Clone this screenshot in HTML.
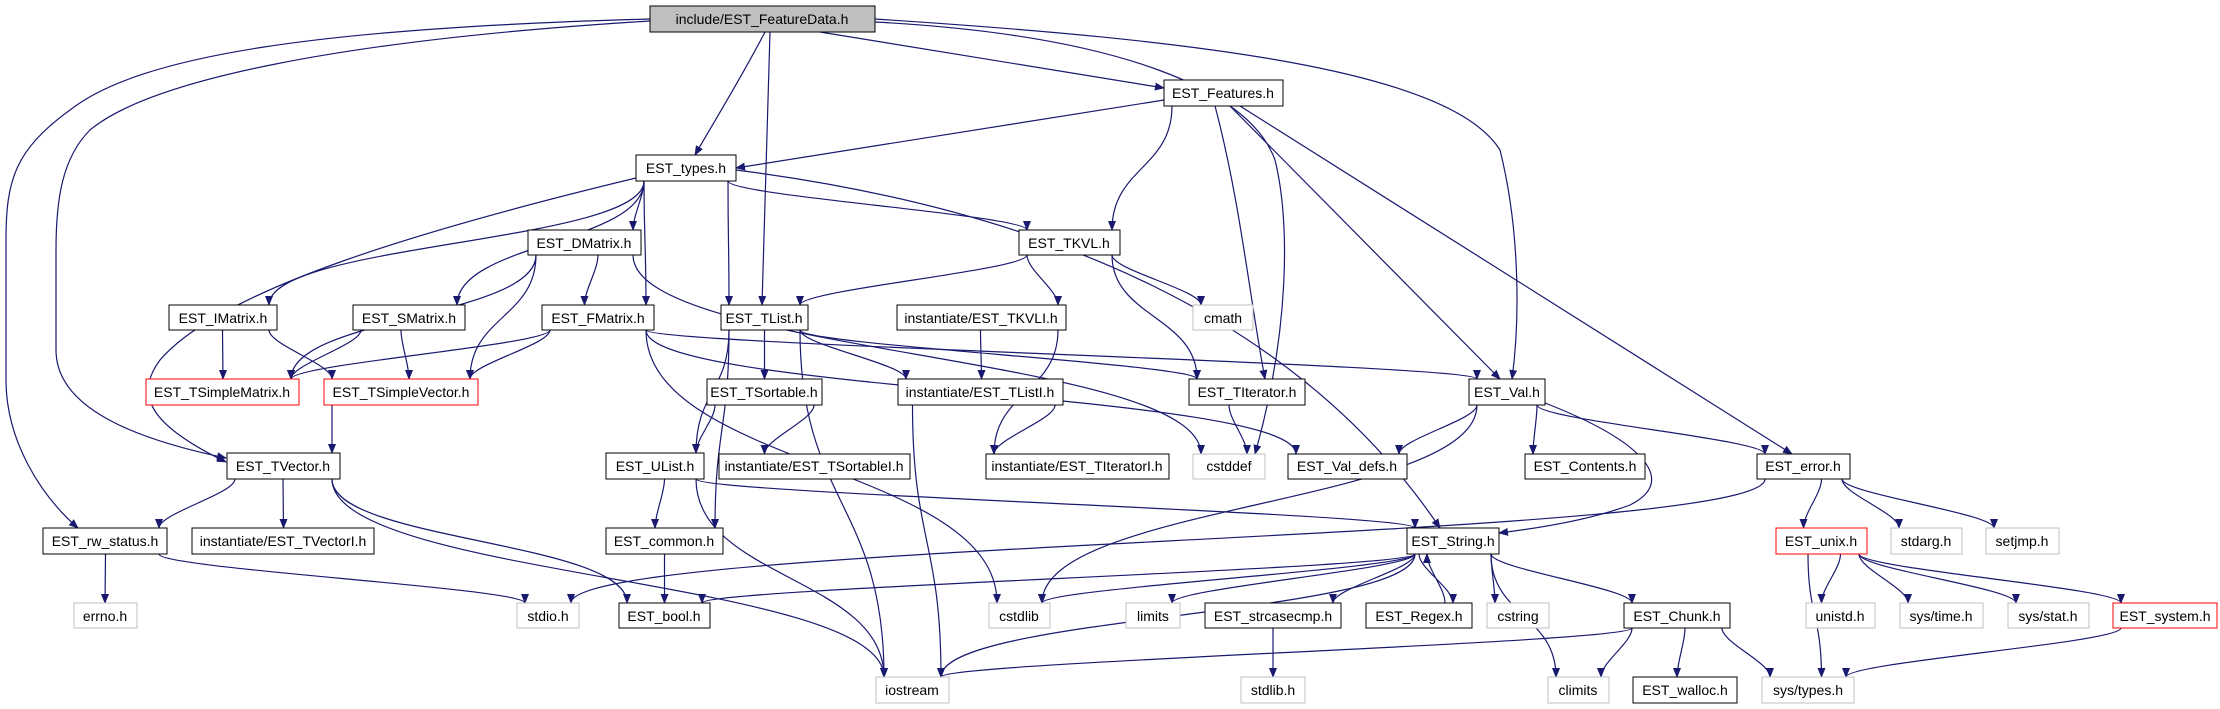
<!DOCTYPE html>
<html><head><meta charset="utf-8"><style>
html,body{margin:0;padding:0;background:#fff;}
svg{display:block;}
text{font-family:"Liberation Sans",sans-serif;font-size:14px;fill:#000;}
</style></head><body>
<svg id="g" width="2220" height="709" viewBox="0 0 2220 709" xmlns="http://www.w3.org/2000/svg">
<defs><marker id="a" markerWidth="10" markerHeight="8" refX="9" refY="4" orient="auto" markerUnits="userSpaceOnUse"><path d="M0,0 L10,4 L0,8 z" fill="#191970"/></marker></defs>
<g id="edges"></g>
<g id="nodes">
<rect x="650" y="6" width="225" height="26" fill="#bfbfbf" stroke="#000"/><text x="762" y="24" text-anchor="middle">include/EST_FeatureData.h</text>
<rect x="1164" y="80" width="119" height="26" fill="#fff" stroke="#000"/><text x="1223" y="98" text-anchor="middle">EST_Features.h</text>
<rect x="636" y="155" width="100" height="26" fill="#fff" stroke="#000"/><text x="686" y="173" text-anchor="middle">EST_types.h</text>
<rect x="528" y="230" width="113" height="25" fill="#fff" stroke="#000"/><text x="584" y="248" text-anchor="middle">EST_DMatrix.h</text>
<rect x="1019" y="230" width="101" height="25" fill="#fff" stroke="#000"/><text x="1069" y="248" text-anchor="middle">EST_TKVL.h</text>
<rect x="169" y="305" width="108" height="25" fill="#fff" stroke="#000"/><text x="223" y="323" text-anchor="middle">EST_IMatrix.h</text>
<rect x="353" y="305" width="112" height="25" fill="#fff" stroke="#000"/><text x="409" y="323" text-anchor="middle">EST_SMatrix.h</text>
<rect x="542" y="305" width="112" height="25" fill="#fff" stroke="#000"/><text x="598" y="323" text-anchor="middle">EST_FMatrix.h</text>
<rect x="721" y="305" width="87" height="25" fill="#fff" stroke="#000"/><text x="764" y="323" text-anchor="middle">EST_TList.h</text>
<rect x="897" y="305" width="169" height="25" fill="#fff" stroke="#000"/><text x="981" y="323" text-anchor="middle">instantiate/EST_TKVLI.h</text>
<rect x="1193" y="305" width="60" height="25" fill="#fff" stroke="#bfbfbf"/><text x="1223" y="323" text-anchor="middle">cmath</text>
<rect x="146" y="379" width="153" height="26" fill="#fff" stroke="#ff0000"/><text x="222" y="397" text-anchor="middle">EST_TSimpleMatrix.h</text>
<rect x="324" y="379" width="154" height="26" fill="#fff" stroke="#ff0000"/><text x="401" y="397" text-anchor="middle">EST_TSimpleVector.h</text>
<rect x="707" y="379" width="115" height="26" fill="#fff" stroke="#000"/><text x="764" y="397" text-anchor="middle">EST_TSortable.h</text>
<rect x="898" y="379" width="165" height="26" fill="#fff" stroke="#000"/><text x="980" y="397" text-anchor="middle">instantiate/EST_TListI.h</text>
<rect x="1189" y="379" width="116" height="26" fill="#fff" stroke="#000"/><text x="1247" y="397" text-anchor="middle">EST_TIterator.h</text>
<rect x="1469" y="379" width="76" height="26" fill="#fff" stroke="#000"/><text x="1507" y="397" text-anchor="middle">EST_Val.h</text>
<rect x="227" y="453" width="113" height="26" fill="#fff" stroke="#000"/><text x="283" y="471" text-anchor="middle">EST_TVector.h</text>
<rect x="606" y="453" width="98" height="26" fill="#fff" stroke="#000"/><text x="655" y="471" text-anchor="middle">EST_UList.h</text>
<rect x="719" y="454" width="191" height="25" fill="#fff" stroke="#000"/><text x="814" y="471" text-anchor="middle">instantiate/EST_TSortableI.h</text>
<rect x="986" y="454" width="183" height="25" fill="#fff" stroke="#000"/><text x="1077" y="471" text-anchor="middle">instantiate/EST_TIteratorI.h</text>
<rect x="1193" y="454" width="72" height="25" fill="#fff" stroke="#bfbfbf"/><text x="1229" y="471" text-anchor="middle">cstddef</text>
<rect x="1288" y="454" width="119" height="25" fill="#fff" stroke="#000"/><text x="1347" y="471" text-anchor="middle">EST_Val_defs.h</text>
<rect x="1525" y="454" width="120" height="25" fill="#fff" stroke="#000"/><text x="1585" y="471" text-anchor="middle">EST_Contents.h</text>
<rect x="1757" y="454" width="93" height="25" fill="#fff" stroke="#000"/><text x="1803" y="471" text-anchor="middle">EST_error.h</text>
<rect x="43" y="528" width="124" height="26" fill="#fff" stroke="#000"/><text x="105" y="546" text-anchor="middle">EST_rw_status.h</text>
<rect x="192" y="528" width="182" height="26" fill="#fff" stroke="#000"/><text x="283" y="546" text-anchor="middle">instantiate/EST_TVectorI.h</text>
<rect x="606" y="528" width="117" height="26" fill="#fff" stroke="#000"/><text x="664" y="546" text-anchor="middle">EST_common.h</text>
<rect x="1407" y="528" width="92" height="26" fill="#fff" stroke="#000"/><text x="1453" y="546" text-anchor="middle">EST_String.h</text>
<rect x="1776" y="528" width="91" height="26" fill="#fff" stroke="#ff0000"/><text x="1821" y="546" text-anchor="middle">EST_unix.h</text>
<rect x="1891" y="528" width="71" height="26" fill="#fff" stroke="#bfbfbf"/><text x="1926" y="546" text-anchor="middle">stdarg.h</text>
<rect x="1986" y="528" width="73" height="26" fill="#fff" stroke="#bfbfbf"/><text x="2022" y="546" text-anchor="middle">setjmp.h</text>
<rect x="74" y="603" width="63" height="25" fill="#fff" stroke="#bfbfbf"/><text x="105" y="621" text-anchor="middle">errno.h</text>
<rect x="517" y="603" width="62" height="25" fill="#fff" stroke="#bfbfbf"/><text x="548" y="621" text-anchor="middle">stdio.h</text>
<rect x="619" y="603" width="91" height="25" fill="#fff" stroke="#000"/><text x="664" y="621" text-anchor="middle">EST_bool.h</text>
<rect x="989" y="603" width="61" height="25" fill="#fff" stroke="#bfbfbf"/><text x="1019" y="621" text-anchor="middle">cstdlib</text>
<rect x="1126" y="603" width="54" height="25" fill="#fff" stroke="#bfbfbf"/><text x="1153" y="621" text-anchor="middle">limits</text>
<rect x="1205" y="603" width="136" height="25" fill="#fff" stroke="#000"/><text x="1273" y="621" text-anchor="middle">EST_strcasecmp.h</text>
<rect x="1366" y="603" width="106" height="25" fill="#fff" stroke="#000"/><text x="1419" y="621" text-anchor="middle">EST_Regex.h</text>
<rect x="1487" y="603" width="62" height="25" fill="#fff" stroke="#bfbfbf"/><text x="1518" y="621" text-anchor="middle">cstring</text>
<rect x="1624" y="603" width="106" height="25" fill="#fff" stroke="#000"/><text x="1677" y="621" text-anchor="middle">EST_Chunk.h</text>
<rect x="1806" y="603" width="69" height="25" fill="#fff" stroke="#bfbfbf"/><text x="1840" y="621" text-anchor="middle">unistd.h</text>
<rect x="1900" y="603" width="83" height="25" fill="#fff" stroke="#bfbfbf"/><text x="1941" y="621" text-anchor="middle">sys/time.h</text>
<rect x="2008" y="603" width="81" height="25" fill="#fff" stroke="#bfbfbf"/><text x="2048" y="621" text-anchor="middle">sys/stat.h</text>
<rect x="2113" y="603" width="104" height="25" fill="#fff" stroke="#ff0000"/><text x="2165" y="621" text-anchor="middle">EST_system.h</text>
<rect x="876" y="677" width="73" height="26" fill="#fff" stroke="#bfbfbf"/><text x="912" y="695" text-anchor="middle">iostream</text>
<rect x="1241" y="677" width="64" height="26" fill="#fff" stroke="#bfbfbf"/><text x="1273" y="695" text-anchor="middle">stdlib.h</text>
<rect x="1548" y="677" width="61" height="26" fill="#fff" stroke="#bfbfbf"/><text x="1578" y="695" text-anchor="middle">climits</text>
<rect x="1633" y="677" width="104" height="26" fill="#fff" stroke="#000"/><text x="1685" y="695" text-anchor="middle">EST_walloc.h</text>
<rect x="1762" y="677" width="92" height="26" fill="#fff" stroke="#bfbfbf"/><text x="1808" y="695" text-anchor="middle">sys/types.h</text>
</g>
</svg>
<script>
var N={};
document.querySelectorAll('#nodes text').forEach(function(t){var r=t.previousElementSibling;N[t.textContent]={x1:+r.getAttribute('x'),y1:+r.getAttribute('y'),x2:+r.getAttribute('x')+ +r.getAttribute('width'),y2:+r.getAttribute('y')+ +r.getAttribute('height')};});
var O={
"include/EST_FeatureData.h|EST_rw_status.h":"M650,19 C320,28 140,55 70,110 C15,150 6,180 6,240 L6,380 C6,440 40,495 78,528",
"include/EST_FeatureData.h|EST_TVector.h":"M650,21 C340,40 150,80 90,130 C62,158 56,200 56,250 L56,350 C56,410 140,440 226,458",
"EST_types.h|EST_TVector.h":"M636,178 C420,230 220,290 160,360 C130,400 160,430 226,462",
"include/EST_FeatureData.h|cstddef":"M875,22 C1120,35 1250,90 1275,160 C1290,220 1290,330 1255,454",
"include/EST_FeatureData.h|EST_Val.h":"M875,19 C1200,40 1450,70 1500,150 C1520,230 1520,320 1512,379",
"include/EST_FeatureData.h|EST_types.h":"M765,32 C740,80 715,120 695,155",
"include/EST_FeatureData.h|EST_TList.h":"M770,32 L762,305",
"include/EST_FeatureData.h|EST_Features.h":"M820,32 L1164,88",
"EST_Features.h|EST_types.h":"M1164,100 L736,168",
"EST_types.h|EST_String.h":"M736,170 C1050,210 1300,320 1440,528",
"EST_Val.h|EST_String.h":"M1545,403 C1640,440 1680,480 1630,505 C1590,520 1540,528 1499,533",
"EST_Features.h|EST_error.h":"M1240,106 L1792,454",
"EST_Features.h|EST_Val.h":"M1230,106 L1500,379",
"EST_Features.h|EST_TIterator.h":"M1215,106 C1240,200 1250,300 1265,379"
};
var E=[
["include/EST_FeatureData.h",["EST_types.h","EST_TList.h","EST_Features.h","EST_TVector.h","EST_rw_status.h","cstddef","EST_Val.h"]],
["EST_Features.h",["EST_types.h","EST_TKVL.h","EST_TIterator.h","EST_Val.h","EST_error.h"]],
["EST_types.h",["EST_DMatrix.h","EST_IMatrix.h","EST_SMatrix.h","EST_FMatrix.h","EST_TList.h","EST_TKVL.h","EST_String.h","EST_TVector.h"]],
["EST_DMatrix.h",["EST_FMatrix.h","EST_TSimpleMatrix.h","EST_TSimpleVector.h","cstddef"]],
["EST_IMatrix.h",["EST_TSimpleMatrix.h","EST_TSimpleVector.h"]],
["EST_SMatrix.h",["EST_TSimpleMatrix.h","EST_TSimpleVector.h"]],
["EST_FMatrix.h",["EST_TSimpleMatrix.h","EST_TSimpleVector.h","EST_Val.h","EST_Val_defs.h","cstdlib"]],
["EST_TKVL.h",["EST_TList.h","instantiate/EST_TKVLI.h","EST_TIterator.h","cmath"]],
["EST_TList.h",["EST_TSortable.h","instantiate/EST_TListI.h","EST_TIterator.h","EST_UList.h","EST_common.h","iostream"]],
["instantiate/EST_TKVLI.h",["instantiate/EST_TListI.h","instantiate/EST_TIteratorI.h"]],
["instantiate/EST_TListI.h",["instantiate/EST_TIteratorI.h","iostream"]],
["EST_TSortable.h",["EST_UList.h","instantiate/EST_TSortableI.h"]],
["EST_TSimpleVector.h",["EST_TVector.h"]],
["EST_TVector.h",["EST_rw_status.h","instantiate/EST_TVectorI.h","EST_bool.h","iostream"]],
["EST_rw_status.h",["errno.h","stdio.h"]],
["EST_UList.h",["EST_common.h","EST_String.h","iostream"]],
["EST_common.h",["EST_bool.h"]],
["EST_TIterator.h",["cstddef"]],
["EST_Val.h",["EST_Val_defs.h","EST_Contents.h","EST_error.h","EST_String.h","cstdlib"]],
["EST_error.h",["stdio.h","EST_unix.h","stdarg.h","setjmp.h"]],
["EST_unix.h",["sys/types.h","unistd.h","sys/time.h","sys/stat.h","EST_system.h"]],
["EST_system.h",["sys/types.h"]],
["EST_String.h",["EST_bool.h","cstdlib","limits","EST_strcasecmp.h","EST_Regex.h","cstring","climits","EST_Chunk.h","iostream"]],
["EST_Regex.h",["EST_String.h"]],
["EST_strcasecmp.h",["stdlib.h"]],
["EST_Chunk.h",["climits","EST_walloc.h","sys/types.h","iostream"]]
];
function cl(v,a,b){return Math.max(a,Math.min(b,v));}
var g=document.getElementById('edges'),h='';
E.forEach(function(e){var s=N[e[0]];e[1].forEach(function(tn){var t=N[tn];if(!s||!t)return;
var d=O[e[0]+'|'+tn];
if(!d){var scx=(s.x1+s.x2)/2,tcx=(t.x1+t.x2)/2,sx,sy,tx,ty;
if(t.y1>=s.y2-2){sx=cl(tcx,s.x1+8,s.x2-8);sy=s.y2;tx=cl(scx,t.x1+8,t.x2-8);ty=t.y1;}
else if(t.y2<=s.y1+2){sx=cl(tcx,s.x1+8,s.x2-8)-8;sy=s.y1;tx=cl(scx,t.x1+8,t.x2-8)+8;ty=t.y2;}
else{sy=(s.y1+s.y2)/2;ty=(t.y1+t.y2)/2;if(tcx>scx){sx=s.x2;tx=t.x1;}else{sx=s.x1;tx=t.x2;}d='M'+sx+','+sy+' L'+tx+','+ty;}
if(!d){var dy=(ty-sy);var k=Math.abs(dy)>120?0.5:0.3;d='M'+sx+','+sy+' C'+sx+','+(sy+dy*k)+' '+tx+','+(ty-dy*k)+' '+tx+','+ty;}}
h+='<path d="'+d+'" fill="none" stroke="#191970" stroke-width="1.2" marker-end="url(#a)"/>';});});
g.innerHTML=h;
</script>
</body></html>
